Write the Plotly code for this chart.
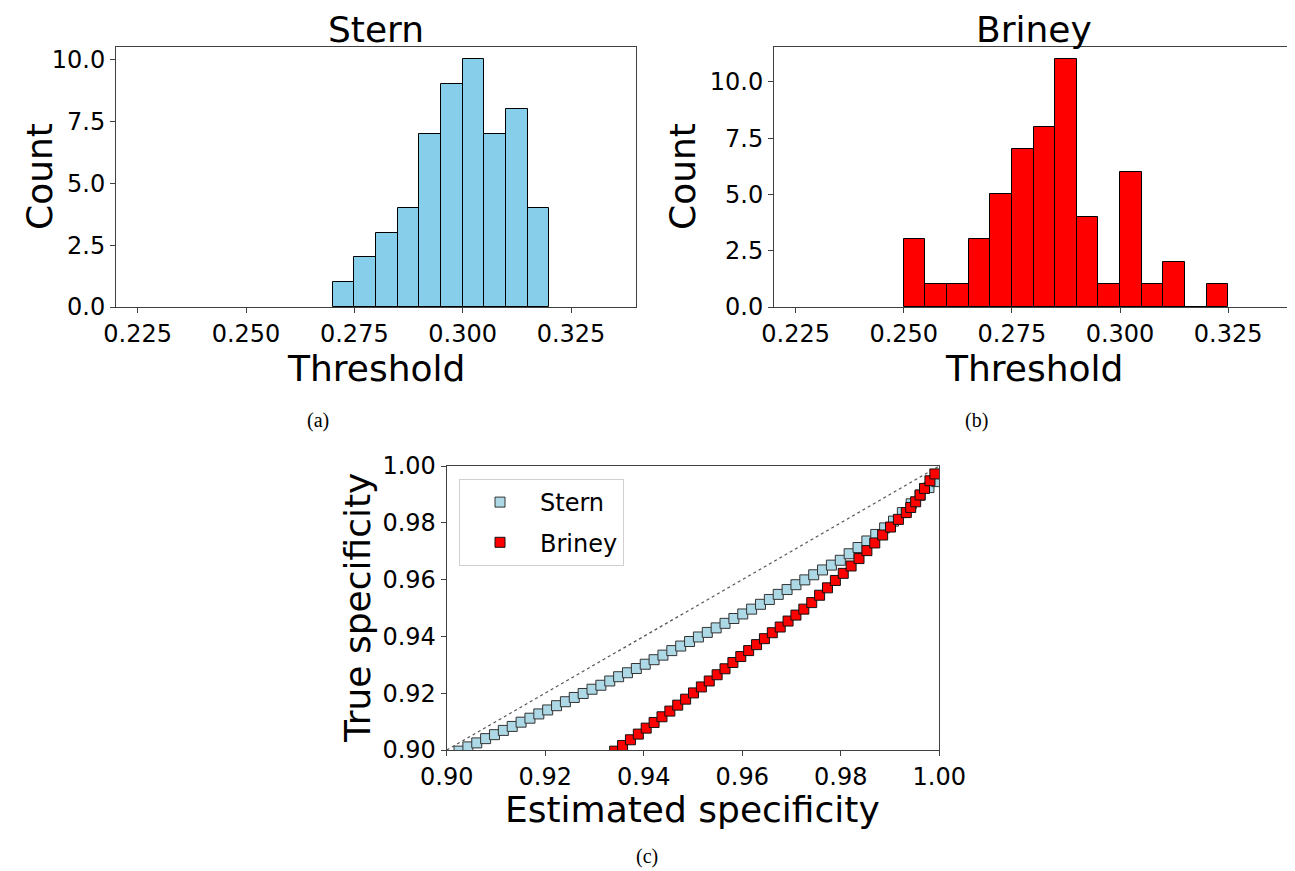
import plotly.graph_objects as go

# ---------------- data ----------------
bin_width = 0.005
stern_bin_left = [0.270, 0.275, 0.280, 0.285, 0.290, 0.295, 0.300, 0.305, 0.310, 0.315]
stern_counts = [1, 2, 3, 4, 7, 9, 10, 7, 8, 4]

briney_bin_left = [0.250, 0.255, 0.260, 0.265, 0.270, 0.275, 0.280, 0.285,
                   0.290, 0.295, 0.300, 0.305, 0.310, 0.315, 0.320]
briney_counts = [3, 1, 1, 3, 5, 7, 8, 11, 4, 1, 6, 1, 2, 0, 1]

stern_est = [0.9025, 0.9043, 0.9061, 0.9079, 0.9097, 0.9115, 0.9133, 0.9151, 0.9169, 0.9187,
             0.9205, 0.9223, 0.9241, 0.9259, 0.9277, 0.9295, 0.9313, 0.9331, 0.9349, 0.9367,
             0.9385, 0.9403, 0.9421, 0.9439, 0.9457, 0.9475, 0.9493, 0.9511, 0.9529, 0.9547,
             0.9565, 0.9583, 0.9601, 0.9619, 0.9637, 0.9655, 0.9673, 0.9691, 0.9709, 0.9727,
             0.9745, 0.9763, 0.9781, 0.9799, 0.9817, 0.9835, 0.9853, 0.9871, 0.9889, 0.9907,
             0.9925, 0.9943, 0.9961, 0.9979, 0.9995]
stern_true = [0.8996, 0.9011, 0.9025, 0.9040, 0.9054, 0.9069, 0.9083, 0.9098, 0.9112, 0.9127,
              0.9141, 0.9156, 0.9170, 0.9185, 0.9199, 0.9214, 0.9228, 0.9243, 0.9258, 0.9272,
              0.9287, 0.9302, 0.9318, 0.9334, 0.9350, 0.9366, 0.9382, 0.9398, 0.9414, 0.9430,
              0.9446, 0.9463, 0.9479, 0.9496, 0.9513, 0.9530, 0.9548, 0.9565, 0.9582, 0.9599,
              0.9617, 0.9634, 0.9651, 0.9668, 0.9691, 0.9713, 0.9736, 0.9759, 0.9782, 0.9806,
              0.9836, 0.9867, 0.9897, 0.9924, 0.9945]

briney_est = [0.9341, 0.9357, 0.9373, 0.9389, 0.9405, 0.9421, 0.9437, 0.9453, 0.9469, 0.9485,
              0.9501, 0.9517, 0.9533, 0.9549, 0.9565, 0.9581, 0.9597, 0.9613, 0.9629, 0.9645,
              0.9661, 0.9677, 0.9693, 0.9709, 0.9725, 0.9741, 0.9757, 0.9773, 0.9789, 0.9805,
              0.9821, 0.9837, 0.9853, 0.9869, 0.9885, 0.9901, 0.9917, 0.9933, 0.9942, 0.9952,
              0.9961, 0.9970, 0.9981, 0.9991]
briney_true = [0.8996, 0.9016, 0.9036, 0.9056, 0.9077, 0.9097, 0.9117, 0.9137, 0.9158, 0.9179,
               0.9201, 0.9222, 0.9243, 0.9265, 0.9286, 0.9308, 0.9329, 0.9350, 0.9371, 0.9392,
               0.9413, 0.9433, 0.9454, 0.9475, 0.9496, 0.9519, 0.9545, 0.9571, 0.9597, 0.9622,
               0.9648, 0.9674, 0.9702, 0.9729, 0.9757, 0.9785, 0.9812, 0.9836, 0.9854, 0.9874,
               0.9898, 0.9921, 0.9948, 0.9972]

diag = [0.90, 1.00]

hist_x_ticks = [0.225, 0.250, 0.275, 0.300, 0.325]
stern_y_ticks = [0.0, 2.5, 5.0, 7.5, 10.0]
spec_ticks = [0.90, 0.92, 0.94, 0.96, 0.98, 1.00]

# ---------------- layout helpers ----------------
# The page body adds an 8px margin, so the figure is drawn 8px smaller and
# reference pixel positions are shifted by that offset.
OFF = 8
W, H = 1295 - OFF, 871 - OFF
FONT = "DejaVu Sans"


def px_x(p):
    return (p - OFF) / W


def px_y(p):
    return 1 - (p - OFF) / H


fig = go.Figure()

fig.add_trace(go.Bar(x=stern_bin_left, y=stern_counts, width=bin_width, offset=0,
                     marker=dict(color="#87CEEB", line=dict(color="black", width=1)),
                     xaxis="x", yaxis="y", showlegend=False))
fig.add_trace(go.Bar(x=briney_bin_left, y=briney_counts, width=bin_width, offset=0,
                     marker=dict(color="#FF0000", line=dict(color="black", width=1)),
                     xaxis="x2", yaxis="y2", showlegend=False))

fig.add_trace(go.Scatter(x=diag, y=diag, mode="lines",
                         line=dict(color="#555555", width=1.2, dash="dot"),
                         xaxis="x3", yaxis="y3", showlegend=False, hoverinfo="skip"))
fig.add_trace(go.Scatter(x=stern_est, y=stern_true, mode="markers", name="Stern",
                         legendgroup="a",
                         marker=dict(symbol="square", size=10, color="#ADD8E6",
                                     line=dict(color="#333333", width=1)),
                         xaxis="x3", yaxis="y3"))
fig.add_trace(go.Scatter(x=briney_est, y=briney_true, mode="markers", name="Briney",
                         legendgroup="b",
                         marker=dict(symbol="square", size=10, color="#FF0000",
                                     line=dict(color="#111111", width=1)),
                         xaxis="x3", yaxis="y3"))

axis_common = dict(showgrid=False, zeroline=False, showline=True, mirror=True,
                   automargin=False,
                   linecolor="#404040", linewidth=1, ticks="outside", ticklen=5,
                   tickcolor="#404040", tickfont=dict(family=FONT, size=24, color="black"))

fig.update_layout(
    width=W, height=H,
    margin=dict(l=0, r=0, t=0, b=0, autoexpand=False),
    paper_bgcolor="white", plot_bgcolor="white",
    bargap=0,
    font=dict(family=FONT, color="black"),
    xaxis=dict(domain=[px_x(116), px_x(636)], range=[0.22, 0.34], anchor="y",
               tickvals=hist_x_ticks, tickformat=".3f", **axis_common),
    yaxis=dict(domain=[px_y(307), px_y(47)], range=[0, 10.5], anchor="x",
               tickvals=stern_y_ticks, tickformat=".1f", **axis_common),
    xaxis2=dict(domain=[px_x(774), px_x(1293)], range=[0.22, 0.34], anchor="y2",
                tickvals=hist_x_ticks, tickformat=".3f", **axis_common),
    yaxis2=dict(domain=[px_y(307), px_y(47)], range=[0, 11.55], anchor="x2",
                tickvals=stern_y_ticks, tickformat=".1f", **axis_common),
    xaxis3=dict(domain=[px_x(446.7), px_x(939.3)], range=[0.90, 1.00], anchor="y3",
                tickvals=spec_ticks, tickformat=".2f", **axis_common),
    yaxis3=dict(domain=[px_y(750), px_y(466)], range=[0.90, 1.00], anchor="x3",
                tickvals=spec_ticks, tickformat=".2f", **axis_common),
    legend=dict(x=px_x(459), y=px_y(479), xanchor="left", yanchor="top",
                xref="paper", yref="paper",
                font=dict(family=FONT, size=24, color="black"),
                bgcolor="rgba(255,255,255,0.8)", bordercolor="#d0d0d0", borderwidth=1,
                traceorder="grouped", tracegroupgap=6, itemwidth=70),
)

label_font = dict(family=FONT, size=36, color="black")
cap_font = dict(family="Liberation Serif", size=20, color="black")

annotations = [
    dict(text="Stern", x=px_x(376), y=px_y(52), xanchor="center", yanchor="bottom", font=label_font),
    dict(text="Briney", x=px_x(1033.5), y=px_y(52), xanchor="center", yanchor="bottom", font=label_font),
    dict(text="Threshold", x=px_x(376), y=px_y(368), xanchor="center", yanchor="middle", font=label_font),
    dict(text="Threshold", x=px_x(1033.5), y=px_y(368), xanchor="center", yanchor="middle", font=label_font),
    dict(text="Count", x=px_x(40), y=px_y(177), xanchor="center", yanchor="middle", textangle=-90, font=label_font),
    dict(text="Count", x=px_x(683), y=px_y(177), xanchor="center", yanchor="middle", textangle=-90, font=label_font),
    dict(text="True specificity", x=px_x(357), y=px_y(608), xanchor="center", yanchor="middle", textangle=-90, font=label_font),
    dict(text="Estimated specificity", x=px_x(692), y=px_y(809), xanchor="center", yanchor="middle", font=label_font),
    dict(text="(a)", x=px_x(318), y=px_y(420), xanchor="center", yanchor="middle", font=cap_font),
    dict(text="(b)", x=px_x(976), y=px_y(420), xanchor="center", yanchor="middle", font=cap_font),
    dict(text="(c)", x=px_x(647), y=px_y(856), xanchor="center", yanchor="middle", font=cap_font),
]
for a in annotations:
    a.update(xref="paper", yref="paper", showarrow=False)
fig.update_layout(annotations=annotations)

fig.write_html("out.html")
